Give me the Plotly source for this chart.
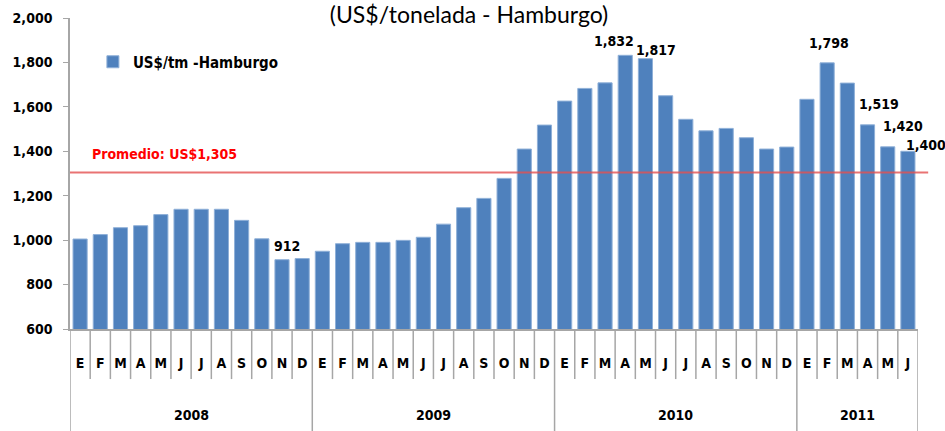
import plotly.graph_objects as go

# ---------------- data ----------------
months = ["E", "F", "M", "A", "M", "J", "J", "A", "S", "O", "N", "D"]
years = ["2008", "2009", "2010", "2011"]
months_per_year = [12, 12, 12, 6]
values = [
    1005, 1025, 1056, 1065, 1115, 1139, 1139, 1139, 1089, 1006, 912, 917,   # 2008
    950, 984, 990, 990, 999, 1013, 1072, 1146, 1188, 1278, 1410, 1518,      # 2009
    1626, 1683, 1708, 1832, 1817, 1650, 1544, 1492, 1503, 1461, 1410, 1419,  # 2010
    1634, 1798, 1707, 1519, 1420, 1400,                                      # 2011
]
labelled_bars = [10, 27, 28, 37, 39, 40, 41]
average_value = 1305
average_text = "Promedio: US$1,305"
series_name = "US$/tm -Hamburgo"
title_text = "(US$/tonelada - Hamburgo)"

# label offsets (pixels) for the data labels, in the order of labelled_bars
label_dx = [5, -11, 11, 2, 11, 15, 18]
label_dy = [14, 14, 9, 20, 21, 21, 6]

# ---------------- build ----------------
month_text = []
for y, n in zip(years, months_per_year):
    month_text.extend(months[:n])
positions = list(range(len(values)))

BOLD = "DejaVu Sans Condensed, DejaVu Sans, sans-serif"
GRAY = "#A6A6A6"

fig = go.Figure()
fig.add_trace(go.Bar(
    x=positions, y=values, name=series_name,
    marker=dict(color="#4F81BD", line=dict(color="#8FB0D8", width=1)),
    showlegend=True,
))

shapes = []
year_bounds = [0]
for n in months_per_year:
    year_bounds.append(year_bounds[-1] + n)
for i in range(len(values) + 1):
    is_year = i in year_bounds
    shapes.append(dict(
        type="line", xref="x", yref="paper",
        x0=i - 0.5, x1=i - 0.5, y0=0, y1=-0.33 if is_year else -0.161,
        line=dict(color=GRAY, width=1.5),
    ))
shapes.append(dict(
    type="line", xref="paper", yref="y", x0=0, x1=1.012,
    y0=average_value, y1=average_value,
    line=dict(color="rgba(228,80,80,0.8)", width=2), layer="above",
))

annotations = []
annotations.append(dict(
    text=average_text, xref="paper", yref="y", x=0.0236, y=average_value,
    xanchor="left", yanchor="middle", yshift=18, showarrow=False,
    font=dict(family=BOLD, size=14, color="#FF0000", weight="bold"),
))
for idx, dx, dy in zip(labelled_bars, label_dx, label_dy):
    annotations.append(dict(
        text=f"{values[idx]:,}", xref="x", yref="y", x=idx, y=values[idx],
        xanchor="center", yanchor="middle", xshift=dx, yshift=dy,
        showarrow=False,
        font=dict(family=BOLD, size=14, color="black", weight="bold"),
    ))
for k, y in enumerate(years):
    center = (year_bounds[k] + year_bounds[k + 1] - 1) / 2
    annotations.append(dict(
        text=y, xref="x", yref="paper", x=center, y=-0.2765,
        xanchor="center", yanchor="middle", showarrow=False,
        font=dict(family=BOLD, size=14, color="black", weight="bold"),
    ))

fig.update_layout(
    width=945, height=431,
    margin=dict(l=70, r=27, t=18, b=102, autoexpand=False),
    paper_bgcolor="white", plot_bgcolor="white",
    bargap=0.3,
    title=dict(text=title_text, x=469 / 945, xref="container", xanchor="center",
               y=1 - 15 / 431, yref="container", yanchor="middle",
               font=dict(family="Lato, Liberation Sans, sans-serif", size=23, color="black")),
    xaxis=dict(
        range=[-0.5, len(values) - 0.5], automargin=False,
        tickmode="array", tickvals=positions, ticktext=month_text, ticks="",
        showline=True, linecolor=GRAY, linewidth=1.5, showgrid=False, zeroline=False,
        ticklabelstandoff=20,
        tickfont=dict(family=BOLD, size=14, color="black", weight="bold"),
    ),
    yaxis=dict(
        range=[600, 2000], tick0=600, dtick=200, tickformat=",", automargin=False,
        ticks="outside", ticklen=5, tickcolor=GRAY,
        showline=True, linecolor=GRAY, linewidth=1.5, showgrid=False,
        zeroline=False, ticklabelstandoff=8,
        tickfont=dict(family=BOLD, size=14, color="black", weight="bold"),
    ),
    legend=dict(
        x=0.027, y=(329 - 62) / 311, xanchor="left", yanchor="middle",
        bgcolor="rgba(0,0,0,0)",
        font=dict(family=BOLD, size=15, color="black", weight="bold"),
    ),
    shapes=shapes, annotations=annotations,
)

fig.write_html("out.html", config={"displayModeBar": False},
               post_script="document.body.style.margin='0';")
